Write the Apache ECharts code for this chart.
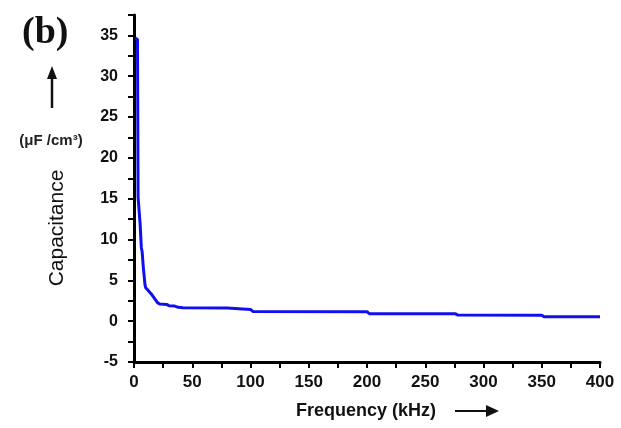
<!DOCTYPE html>
<html><head><meta charset="utf-8">
<script src="https://cdn.jsdelivr.net/npm/echarts@6/dist/echarts.min.js"></script>
<style>html,body{margin:0;padding:0;background:#fff}#c{width:621px;height:428px}</style>
</head><body><div id="c"></div>
<script>
var freqKHz = [1, 3, 3.5, 5, 5.2, 6, 6.3, 7, 8, 9.4, 10, 12, 15, 18, 20, 22, 28, 30, 35, 38, 42, 80, 81, 100, 102, 200, 202, 276, 278, 350, 352, 400];
var capacitance = [34.7, 34.5, 15.2, 15.0, 12, 11.8, 9, 8.5, 6.6, 4.5, 4.1, 3.8, 3.3, 2.7, 2.3, 2.1, 2.05, 1.9, 1.85, 1.7, 1.65, 1.6, 1.44, 1.44, 1.2, 1.15, 0.92, 0.9, 0.75, 0.74, 0.55, 0.55];
var xTicks = [0, 50, 100, 150, 200, 250, 300, 350, 400];
var yTicks = [-5, 0, 5, 10, 15, 20, 25, 30, 35];

var data = freqKHz.map(function (f, i) { return [f, capacitance[i]]; });
var chart = echarts.init(document.getElementById('c'), null, {renderer: 'canvas'});
var lab = {color: '#111', fontFamily: 'Liberation Sans, Arial, sans-serif', fontWeight: 'bold'};
chart.setOption({
  animation: false,
  backgroundColor: '#fff',
  grid: {left: 134, right: 21, top: 15, bottom: 66},
  xAxis: {
    type: 'value', min: 0, max: 400, interval: 25,
    axisLine: {onZero: false, lineStyle: {color: '#000', width: 3}},
    axisTick: {length: 6, lineStyle: {color: '#000', width: 2}},
    splitLine: {show: false},
    axisLabel: Object.assign({}, lab, {fontSize: 17, margin: 12, formatter: function (v) { return xTicks.indexOf(v) >= 0 ? String(v) : ''; }})
  },
  yAxis: {
    type: 'value', min: -5, max: 37.5, interval: 2.5,
    axisLine: {show: true, onZero: false, lineStyle: {color: '#000', width: 3}},
    axisTick: {show: true, length: 6, lineStyle: {color: '#000', width: 2}},
    splitLine: {show: false},
    axisLabel: Object.assign({}, lab, {fontSize: 16, margin: 16, formatter: function (v) { return yTicks.indexOf(v) >= 0 ? String(v) : ''; }})
  },
  series: [{
    type: 'line', data: data, showSymbol: false,
    lineStyle: {color: '#1010ee', width: 3}
  }],
  graphic: [
    {type: 'text', left: 22, top: 14, style: {text: '(b)', font: 'bold 38px "Liberation Serif", "Times New Roman", serif', fill: '#111'}},
    {type: 'line', shape: {x1: 52, y1: 72, x2: 52, y2: 108}, style: {stroke: '#111', lineWidth: 2.5}},
    {type: 'polygon', shape: {points: [[52, 66], [47, 79], [57, 79]]}, style: {fill: '#111'}},
    {type: 'text', x: 51, y: 141, style: {text: '(μF /cm³)', font: 'bold 15px "Liberation Sans", Arial, sans-serif', fill: '#222', align: 'center', verticalAlign: 'middle'}},
    {type: 'text', x: 57, y: 228, rotation: Math.PI / 2, style: {text: 'Capacitance', font: '21px "Liberation Sans", Arial, sans-serif', fill: '#111', align: 'center', verticalAlign: 'middle'}},
    {type: 'text', x: 366, y: 411, style: {text: 'Frequency (kHz)', font: 'bold 18px "Liberation Sans", Arial, sans-serif', fill: '#111', align: 'center', verticalAlign: 'middle'}},
    {type: 'line', shape: {x1: 455, y1: 411, x2: 490, y2: 411}, style: {stroke: '#111', lineWidth: 2}},
    {type: 'polygon', shape: {points: [[499, 411], [486, 405], [486, 417]]}, style: {fill: '#111'}}
  ]
});
</script></body></html>
